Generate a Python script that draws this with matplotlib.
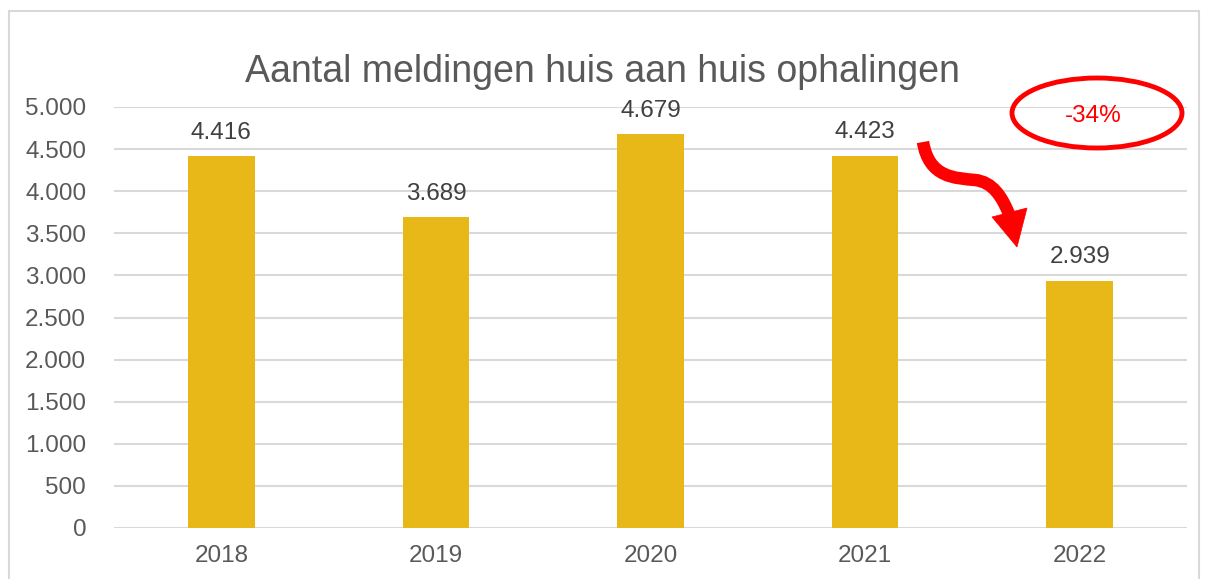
import matplotlib.pyplot as plt
from matplotlib.patches import Ellipse, PathPatch, Polygon, Rectangle
from matplotlib.path import Path
from matplotlib.ticker import FuncFormatter

jaren = ['2018', '2019', '2020', '2021', '2022']
meldingen = [4416, 3689, 4679, 4423, 2939]
yticks = [0, 500, 1000, 1500, 2000, 2500, 3000, 3500, 4000, 4500, 5000]

plt.rcParams['font.family'] = ['Liberation Sans', 'DejaVu Sans']

W, H = 1208, 579
fig = plt.figure(figsize=(W / 100, H / 100), dpi=100)

def fx(px):
    return px / W

def fy(py):
    return 1 - py / H

# kader rond de grafiek
fig.patches.append(Rectangle((fx(9), fy(600)), fx(1199) - fx(9), fy(11) - fy(600),
                             transform=fig.transFigure, fill=False,
                             edgecolor='#d9d9d9', linewidth=1.5))

ax = fig.add_axes([fx(114), fy(528), fx(1187) - fx(114), fy(107) - fy(528)])
x = range(len(jaren))
ax.bar(x, meldingen, width=0.31, color='#E8B818', zorder=3)

def punt(v, pos=None):
    return f'{int(v):,}'.replace(',', '.')

for i, v in zip(x, meldingen):
    ax.annotate(punt(v), (i, v), xytext=(0, 9), textcoords='offset points',
                ha='center', va='bottom', fontsize=17.5, color='#404040')

ax.set_xlim(-0.5, len(jaren) - 0.5)
ax.set_ylim(0, 5000)
ax.set_yticks(yticks)
ax.yaxis.set_major_formatter(FuncFormatter(punt))
ax.set_xticks(list(x))
ax.set_xticklabels(jaren)
ax.grid(axis='y', color='#d9d9d9', linewidth=1.5, zorder=0)
for s in ax.spines.values():
    s.set_visible(False)
ax.tick_params(length=0, labelsize=17.5, labelcolor='#595959')
ax.tick_params(axis='y', pad=20)
ax.tick_params(axis='x', pad=12)

fig.text(fx(602), fy(72), 'Aantal meldingen huis aan huis ophalingen',
         ha='center', va='center', fontsize=27, color='#595959')

# rode ellips met percentage
fig.patches.append(Ellipse((fx(1097), fy(113)), fx(170), 70 / H,
                           transform=fig.transFigure, fill=False,
                           edgecolor='#FF0000', linewidth=3.5))
fig.text(fx(1093), fy(116), '-34%', ha='center', va='center',
         fontsize=17.5, color='#FF0000')

# gebogen pijl naar beneden: schacht + punt
schacht = [(923, 142), (929, 178), (955, 178), (975, 180),
           (993, 182), (1002, 197), (1009, 214)]
codes = [Path.MOVETO] + [Path.CURVE4] * 6
fig.patches.append(PathPatch(Path([(fx(a), fy(b)) for a, b in schacht], codes),
                             transform=fig.transFigure, fill=False,
                             edgecolor='#FF0000', linewidth=9, capstyle='butt'))
punt_pijl = [(992, 217), (1027, 208), (1017, 247)]
fig.patches.append(Polygon([(fx(a), fy(b)) for a, b in punt_pijl],
                           closed=True, transform=fig.transFigure,
                           facecolor='#FF0000', edgecolor='#FF0000', linewidth=0.5))

fig.savefig('out.png', dpi=100)
